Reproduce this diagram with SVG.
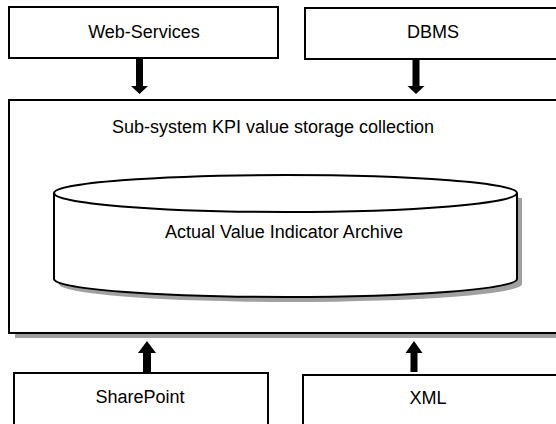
<svg xmlns="http://www.w3.org/2000/svg" width="556" height="424" viewBox="0 0 556 424">
<style>
.box{fill:#fff;stroke:#000;stroke-width:2}
.lbl{font-family:"Liberation Sans",Arial,sans-serif;font-size:18px;fill:#000;text-anchor:middle}
.shadow{fill:#a0a0a0}
</style>
<rect width="556" height="424" fill="#fff"/>
<g id="main">
<rect class="shadow" x="15" y="106" width="550" height="232"/>
<rect class="box" x="9" y="100" width="552" height="233"/>
<text class="lbl" x="273" y="133">Sub-system KPI value storage collection</text>
</g>
<g id="archive">
<path class="shadow" d="M522,198 V284 A231.5,18 0 0 1 59,284 V198 Z"/>
<path class="box" d="M54,193 A231.5,18 0 0 1 517,193 V279 A231.5,18 0 0 1 54,279 Z"/>
<path d="M54,193 A231.5,19 0 0 0 517,193" fill="none" stroke="#000" stroke-width="2"/>
<text class="lbl" x="284" y="238">Actual Value Indicator Archive</text>
</g>
<g id="web-services">
<rect class="box" x="9" y="7" width="269" height="51"/>
<text class="lbl" x="144" y="38">Web-Services</text>
</g>
<g id="dbms">
<rect class="box" x="305" y="8" width="256" height="51"/>
<text class="lbl" x="433" y="38">DBMS</text>
</g>
<g id="sharepoint">
<rect class="box" x="14" y="373" width="254" height="60"/>
<text class="lbl" x="140" y="403">SharePoint</text>
</g>
<g id="xml">
<rect class="box" x="303" y="375" width="258" height="60"/>
<text class="lbl" x="428" y="404">XML</text>
</g>
<g id="connectors" fill="#000">
<path d="M136,58 H143 V86 H148 L139.5,94 L131,86 H136 Z"/>
<path d="M412.5,59 H419.5 V86 H424.5 L416,94 L407.5,86 H412.5 Z"/>
<path d="M143,372 V353 H138 L147,341 L156,353 H151 V372 Z"/>
<path d="M410.5,372 V353 H405.5 L414,341 L422.5,353 H417.5 V372 Z"/>
</g>
</svg>
